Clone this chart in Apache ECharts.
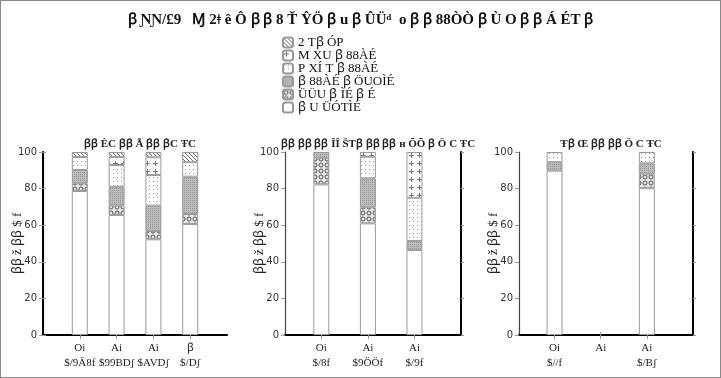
<!DOCTYPE html>
<html>
<head>
<meta charset="utf-8">
<script src="https://cdn.jsdelivr.net/npm/echarts@6/dist/echarts.min.js"></script>
<style>
  html, body { margin: 0; padding: 0; background: #fff; }
  #chart { width: 721px; height: 378px; }
  #frame { position: absolute; left: 0; top: 0; width: 721px; height: 378px; box-sizing: border-box; border: 1px solid #8a8a8a; pointer-events: none; }
</style>
</head>
<body>
<div id="chart"></div>
<div id="frame"></div>
<script>
// legend names, top to bottom
const legendNames = ['2 Tꞵ ÓP', 'M XU ꞵ 88ÀÉ', 'P XÍ T ꞵ 88ÀÉ', 'ꞵ 88ÀÉ ꞵ ÖUOÌÉ', 'ÜÜU ꞵ ÌÉ ꞵ É', 'ꞵ U ÜÓTÌÉ'];

const mainTitle = 'ꞵ ƝƝ/£9   Ɱ 2ǂ ê Ô ꞵ ꞵ 8 Ť ŶÖ ꞵ u ꞵ ÛÜᵈ  o ꞵ ꞵ 88ÒÒ ꞵ Ù O ꞵ ꞵ Á ÉT ꞵ';
const panelTitles = ['ꞵꞵ ÈC ꞵꞵ Ã ꞵꞵ ꞵC ŦC', 'ꞵꞵ ꞵꞵ ꞵꞵ ÎÎ ŠTꞵ ꞵꞵ ꞵꞵ н ÕÕ ꞵ Ö C ŦC', 'Ŧꞵ Œ ꞵꞵ ꞵꞵ Ö C ŦC'];
const yNames = ['ꞵꞵ ž ꞵꞵ $ f', 'ꞵꞵ ž ꞵꞵ $ f', 'ꞵꞵ ž ꞵꞵ $ f'];

// panel 1
const p1Labels = ['Oi\n$/9Ä8f', 'Ai\n$99BDʃ', 'Ai\n$AVDʃ', 'ꞵ\n$/Dʃ'];
const p1White  = [78.7, 65.6, 52.3, 60.7];
const p1Circle = [4.2, 5.1, 4.5, 5.4];
const p1Gray   = [7.3, 10.3, 13.9, 20.4];
const p1Dots   = [7.1, 11.9, 16.7, 7.9];
const p1Plus   = [0, 4.4, 9.7, 0];
const p1Hatch  = [2.7, 2.7, 2.9, 5.6];

// panel 2
const p2Labels = ['Oi\n$/8f', 'Ai\n$9ÖÖf', 'Ai\n$/9f'];
const p2White  = [82.3, 61.0, 46.4];
const p2Circle = [14.3, 8.8, 0];
const p2Gray   = [3.4, 15.8, 5.0];
const p2Dots   = [0, 11.8, 23.6];
const p2Plus   = [0, 2.6, 25.0];
const p2Hatch  = [0, 0, 0];

// panel 3 (middle bar empty)
const p3Labels = ['Oi\n$//f', 'Ai', 'Ai\n$/Bʃ'];
const p3White  = [89.8, null, 80.2];
const p3Circle = [0, null, 7.6];
const p3Gray   = [4.6, null, 6.0];
const p3Dots   = [5.6, null, 6.2];
const p3Plus   = [0, null, 0];
const p3Hatch  = [0, null, 0];

function tile(w, h, bg, draw) {
  const c = document.createElement('canvas');
  c.width = w; c.height = h;
  const g = c.getContext('2d');
  g.fillStyle = bg;
  g.fillRect(0, 0, w, h);
  draw(g);
  return { image: c, repeat: 'repeat' };
}

const patHatch = tile(4, 4, '#fff', g => { g.fillStyle = '#666'; for (let i = 0; i < 4; i++) g.fillRect(i, i, 1, 1); });
const patPlus = tile(8, 8, '#fff', g => { g.fillStyle = '#777'; g.fillRect(3, 1, 1, 5); g.fillRect(1, 3, 5, 1); });
const patDots = tile(4, 4, '#fff', g => { g.fillStyle = '#999'; g.fillRect(1, 1, 1, 1); });
const patGray = tile(2, 2, '#bcbcbc', g => { g.fillStyle = '#999'; g.fillRect(0, 0, 1, 1); });
const patCircle = tile(6, 6, '#e6e6e6', g => {
  g.strokeStyle = '#555'; g.lineWidth = 1;
  g.beginPath(); g.arc(3, 3, 2, 0, Math.PI * 2); g.stroke();
});
const fills = [patHatch, patPlus, patDots, patGray, patCircle, '#fff'];

const serif = 'Liberation Serif';
const grids = [
  { left: 43, top: 152, width: 184, height: 183 },
  { left: 285, top: 152, width: 176, height: 183 },
  { left: 519, top: 152, width: 174, height: 183 }
];
const xRanges = [[0, 5], [0.22, 4], [0.23, 4]];
const panels = [
  { labels: p1Labels, stacks: [p1Hatch, p1Plus, p1Dots, p1Gray, p1Circle, p1White] },
  { labels: p2Labels, stacks: [p2Hatch, p2Plus, p2Dots, p2Gray, p2Circle, p2White] },
  { labels: p3Labels, stacks: [p3Hatch, p3Plus, p3Dots, p3Gray, p3Circle, p3White] }
];

const xAxes = [], yAxes = [], series = [], titles = [];

titles.push({
  text: mainTitle, left: 'center', top: 8,
  textStyle: { fontFamily: serif, fontSize: 15, fontWeight: 'bold', color: '#111' }
});

panels.forEach((p, i) => {
  const pos = p.labels.map((_, j) => j + 1);
  const fmt = v => p.labels[Math.round(v) - 1] || '';
  xAxes.push({
    gridIndex: i, type: 'value', min: xRanges[i][0], max: xRanges[i][1], position: 'bottom',
    axisLine: { lineStyle: { color: '#333', width: 1 } },
    axisTick: { show: true, length: 4, customValues: pos, lineStyle: { color: '#999' } },
    axisLabel: { customValues: pos, formatter: fmt, fontFamily: serif, fontSize: 11, color: '#222', lineHeight: 15, margin: 6 },
    splitLine: { show: false }
  });
  xAxes.push({
    gridIndex: i, type: 'value', min: xRanges[i][0], max: xRanges[i][1], position: 'top',
    axisLine: { show: true, lineStyle: { color: '#000', width: 2 } },
    axisTick: { show: true, length: 3, customValues: pos, lineStyle: { color: '#999' } },
    axisLabel: { show: false }, splitLine: { show: false }
  });
  yAxes.push({
    gridIndex: i, type: 'value', min: 0, max: 100, interval: 20, position: 'left',
    name: yNames[i], nameLocation: 'middle', nameGap: 19, nameRotate: 90, nameMoveOverlap: false,
    nameTextStyle: { fontFamily: serif, fontSize: 13, color: '#222' },
    axisLine: { show: true, lineStyle: { color: '#444', width: 1.2 } },
    axisTick: { show: true, length: 4, lineStyle: { color: '#999' } },
    axisLabel: { fontFamily: 'DejaVu Sans', fontSize: 10, color: '#333', margin: 6 },
    splitLine: { show: false }
  });
  yAxes.push({
    gridIndex: i, type: 'value', min: 0, max: 100, interval: 20, position: 'right',
    axisLine: { show: true, lineStyle: { color: '#000', width: 2 } },
    axisTick: { show: true, length: 3, lineStyle: { color: '#999' } },
    axisLabel: { show: false }, splitLine: { show: false }
  });
  titles.push({
    text: panelTitles[i], left: grids[i].left + grids[i].width / 2, textAlign: 'center', top: 134,
    textStyle: { fontFamily: serif, fontSize: 11, fontWeight: 'bold', color: '#222' }
  });
  // draw bottom to top; value first so the stack runs on it
  for (let k = 5; k >= 0; k--) {
    series.push({
      name: legendNames[k], type: 'bar', stack: 'p' + i,
      xAxisIndex: i * 2, yAxisIndex: i * 2,
      barWidth: 16,
      dimensions: ['share', 'pos'],
      encode: { x: 1, y: 0 },
      data: p.stacks[k].map((v, j) => [v ? v : '-', j + 1]),
      itemStyle: { color: fills[k], borderColor: '#999', borderWidth: 1 },
      emphasis: { disabled: true }, animation: false
    });
  }
});

const chart = echarts.init(document.getElementById('chart'));
chart.setOption({
  animation: false,
  backgroundColor: '#fff',
  title: titles,
  legend: {
    data: legendNames, orient: 'vertical', left: 277, top: 31,
    itemWidth: 10, itemHeight: 10, itemGap: 0,
    textStyle: { fontFamily: serif, fontSize: 13, lineHeight: 13, color: '#111' },
    selectedMode: false
  },
  grid: grids,
  xAxis: xAxes,
  yAxis: yAxes,
  series: series
});
</script>
</body>
</html>
